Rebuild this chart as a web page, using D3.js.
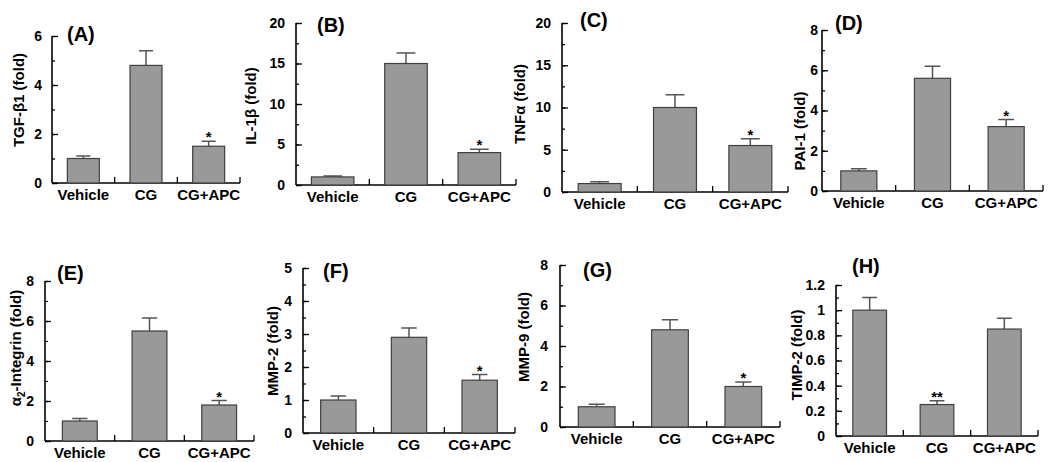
<!DOCTYPE html>
<html>
<head>
<meta charset="utf-8">
<script src="https://cdn.jsdelivr.net/npm/d3@7"></script>
<style>
  body { margin: 0; background: #fff; }
  text { font-family: "Liberation Sans", Arial, sans-serif; font-weight: bold; fill: #000; }
</style>
</head>
<body>
<script>
const width = 1050;
const height = 462;

// data
const categories = ['Vehicle', 'CG', 'CG+APC'];

const tgfMean = [1.0, 4.8, 1.5];
const tgfErr = [0.1, 0.6, 0.2];
const il1Mean = [1.0, 15.0, 4.0];
const il1Err = [0.1, 1.3, 0.4];
const tnfMean = [1.0, 10.0, 5.5];
const tnfErr = [0.2, 1.5, 0.8];
const paiMean = [1.0, 5.6, 3.2];
const paiErr = [0.1, 0.6, 0.35];
const integrinMean = [1.0, 5.5, 1.8];
const integrinErr = [0.13, 0.65, 0.22];
const mmp2Mean = [1.0, 2.9, 1.6];
const mmp2Err = [0.12, 0.28, 0.17];
const mmp9Mean = [1.0, 4.8, 2.0];
const mmp9Err = [0.12, 0.5, 0.22];
const timpMean = [1.0, 0.25, 0.85];
const timpErr = [0.1, 0.03, 0.085];

const starsDefault = ['', '', '*'];
const starsTimp = ['', '**', ''];

// layout of each small panel
const panels = [
  { id: '(A)', label: 'TGF-β1 (fold)', mean: tgfMean, err: tgfErr, stars: starsDefault, max: 6, minor: 1, major: 2,
    x0: 52, x1: 240, yTop: 36, yBot: 183, lx: 67, ly: 41, tx: 19, ty: 100, bw: 0.51, pad: 10 },
  { id: '(B)', label: 'IL-1β (fold)', mean: il1Mean, err: il1Err, stars: starsDefault, max: 20, minor: 2.5, major: 5,
    x0: 296, x1: 516, yTop: 23, yBot: 185, lx: 317, ly: 32, tx: 251, ty: 106, bw: 0.58, pad: 11 },
  { id: '(C)', label: 'TNFα (fold)', mean: tnfMean, err: tnfErr, stars: starsDefault, max: 20, minor: 2.5, major: 5,
    x0: 562, x1: 788, yTop: 23, yBot: 192, lx: 580, ly: 27, tx: 520, ty: 104, bw: 0.57, pad: 11 },
  { id: '(D)', label: 'PAI-1 (fold)', mean: paiMean, err: paiErr, stars: starsDefault, max: 8, minor: 1, major: 2,
    x0: 822, x1: 1043, yTop: 30, yBot: 191, lx: 835, ly: 30, tx: 800, ty: 131, bw: 0.49, pad: 4 },
  { id: '(E)', label: 'integrin', mean: integrinMean, err: integrinErr, stars: starsDefault, max: 8, minor: 1, major: 2,
    x0: 45, x1: 254, yTop: 281, yBot: 441, lx: 57, ly: 280, tx: 16, ty: 348, bw: 0.5, pad: 11 },
  { id: '(F)', label: 'MMP-2 (fold)', mean: mmp2Mean, err: mmp2Err, stars: starsDefault, max: 5, minor: 0.5, major: 1,
    x0: 303, x1: 515, yTop: 268, yBot: 433, lx: 323, ly: 278, tx: 273, ty: 351, bw: 0.5, pad: 11 },
  { id: '(G)', label: 'MMP-9 (fold)', mean: mmp9Mean, err: mmp9Err, stars: starsDefault, max: 8, minor: 1, major: 2,
    x0: 560, x1: 780, yTop: 265, yBot: 427, lx: 583, ly: 277, tx: 524, ty: 337, bw: 0.5, pad: 12 },
  { id: '(H)', label: 'TIMP-2 (fold)', mean: timpMean, err: timpErr, stars: starsTimp, max: 1.2, minor: 0.1, major: 0.2,
    x0: 836, x1: 1038, yTop: 285, yBot: 436, lx: 852, ly: 273, tx: 797, ty: 355, bw: 0.5, pad: 11 }
];

const svg = d3.select('body').append('svg').attr('width', width).attr('height', height);

panels.forEach(p => {
  const g = svg.append('g');

  const x = d3.scaleBand().domain(categories).range([p.x0, p.x1]);
  const y = d3.scaleLinear().domain([0, p.max]).range([p.yBot, p.yTop]);

  const nMinor = Math.round(p.max / p.minor);
  const minorVals = d3.range(0, nMinor + 1).map(i => +(i * p.minor).toFixed(3));
  const nMajor = Math.round(p.max / p.major);
  const majorVals = d3.range(0, nMajor + 1).map(i => +(i * p.major).toFixed(3));

  // minor ticks
  g.append('g')
    .attr('transform', `translate(${p.x0},0)`)
    .call(d3.axisLeft(y).tickValues(minorVals).tickSize(-3).tickSizeOuter(0).tickFormat(''))
    .call(a => a.select('.domain').remove())
    .call(a => a.selectAll('line').attr('stroke', '#000').attr('stroke-width', 1.3));

  // major ticks + labels
  g.append('g')
    .attr('transform', `translate(${p.x0},0)`)
    .call(d3.axisLeft(y).tickValues(majorVals).tickSize(-6).tickSizeOuter(0).tickPadding(p.pad)
      .tickFormat(d => d3.format('~g')(d)))
    .call(a => a.select('.domain').attr('stroke', '#000').attr('stroke-width', 1.6)
      .attr('d', `M0,${p.yTop}V${p.yBot}`))
    .call(a => a.selectAll('line').attr('stroke', '#000').attr('stroke-width', 1.3))
    .call(a => a.selectAll('text').attr('font-size', 14).attr('font-family', '"Liberation Sans", Arial, sans-serif')
      .attr('font-weight', 'bold').attr('fill', '#000'));

  // x axis line with category dividers
  g.append('line')
    .attr('x1', p.x0).attr('x2', p.x1)
    .attr('y1', p.yBot).attr('y2', p.yBot)
    .attr('stroke', '#000').attr('stroke-width', 1.6);

  g.selectAll('.divider')
    .data(categories)
    .enter().append('line')
    .attr('class', 'divider')
    .attr('x1', d => x(d) + x.bandwidth()).attr('x2', d => x(d) + x.bandwidth())
    .attr('y1', p.yBot).attr('y2', p.yBot - 6)
    .attr('stroke', '#000').attr('stroke-width', 1.3);

  const bw = x.bandwidth() * p.bw;
  const cx = d => x(d) + x.bandwidth() / 2;

  // error bars (upper only)
  g.selectAll('.err')
    .data(categories)
    .enter().append('path')
    .attr('class', 'err')
    .attr('d', (d, i) => {
      const top = y(p.mean[i] + p.err[i]);
      const cap = bw * 0.22;
      return `M${cx(d)},${y(p.mean[i])}V${top}M${cx(d) - cap},${top}H${cx(d) + cap}`;
    })
    .attr('fill', 'none')
    .attr('stroke', '#555').attr('stroke-width', 1.5);

  // bars
  g.selectAll('.bar')
    .data(categories)
    .enter().append('rect')
    .attr('class', 'bar')
    .attr('x', d => cx(d) - bw / 2)
    .attr('width', bw)
    .attr('y', (d, i) => y(p.mean[i]))
    .attr('height', (d, i) => p.yBot - y(p.mean[i]))
    .attr('fill', '#999999')
    .attr('stroke', '#404040').attr('stroke-width', 1.2);

  // significance marks
  g.selectAll('.star')
    .data(categories)
    .enter().append('text')
    .attr('x', d => cx(d))
    .attr('y', (d, i) => y(p.mean[i] + p.err[i]) + 1)
    .attr('text-anchor', 'middle')
    .attr('font-size', 15)
    .text((d, i) => p.stars[i]);

  // category labels
  g.selectAll('.cat')
    .data(categories)
    .enter().append('text')
    .attr('x', d => cx(d))
    .attr('y', p.yBot + 17)
    .attr('text-anchor', 'middle')
    .attr('font-size', 15)
    .text(d => d);

  // panel letter
  g.append('text')
    .attr('x', p.lx).attr('y', p.ly)
    .attr('font-size', 20)
    .text(p.id);

  // y label
  const yl = g.append('text')
    .attr('transform', `translate(${p.tx + 5},${p.ty}) rotate(-90)`)
    .attr('text-anchor', 'middle')
    .attr('font-size', 15);
  if (p.label === 'integrin') {
    yl.attr('font-weight', 'normal');
    yl.append('tspan').text('α');
    yl.append('tspan').attr('font-size', 10).attr('dy', 4).text('2');
    yl.append('tspan').attr('dy', -4).text('-Integrin (fold)');
  } else {
    yl.text(p.label);
  }
});
</script>
</body>
</html>
